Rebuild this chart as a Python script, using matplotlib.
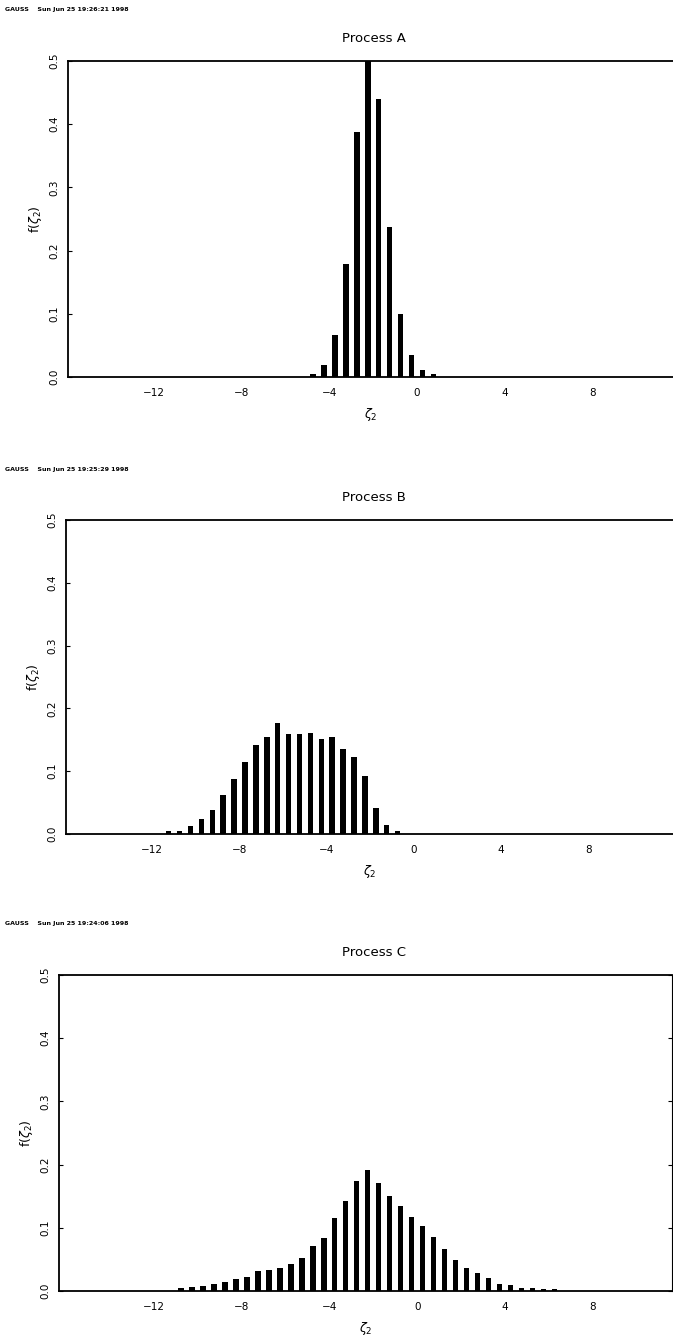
import numpy as np
import matplotlib
matplotlib.use('Agg')
import matplotlib.pyplot as plt

# bin centres (width 0.5) and heights
xs_a = [-4.75, -4.25, -3.75, -3.25, -2.75, -2.25, -1.75, -1.25, -0.75, -0.25, 0.25, 0.75]
fa = [0.005, 0.019, 0.066, 0.179, 0.387, 0.500, 0.440, 0.238, 0.099, 0.035, 0.011, 0.004]

xs_b = [-11.25, -10.75, -10.25, -9.75, -9.25, -8.75, -8.25, -7.75, -7.25, -6.75, -6.25,
        -5.75, -5.25, -4.75, -4.25, -3.75, -3.25, -2.75, -2.25, -1.75, -1.25, -0.75]
fb = [0.004, 0.005, 0.013, 0.024, 0.038, 0.062, 0.087, 0.114, 0.141, 0.154, 0.176,
      0.160, 0.159, 0.161, 0.152, 0.155, 0.136, 0.122, 0.093, 0.042, 0.015, 0.004]

xs_c = [-10.75, -10.25, -9.75, -9.25, -8.75, -8.25, -7.75, -7.25, -6.75, -6.25, -5.75,
        -5.25, -4.75, -4.25, -3.75, -3.25, -2.75, -2.25, -1.75, -1.25, -0.75, -0.25,
        0.25, 0.75, 1.25, 1.75, 2.25, 2.75, 3.25, 3.75, 4.25, 4.75, 5.25, 5.75, 6.25]
fc = [0.005, 0.006, 0.008, 0.011, 0.014, 0.019, 0.022, 0.032, 0.033, 0.036, 0.043,
      0.053, 0.071, 0.084, 0.116, 0.142, 0.174, 0.192, 0.171, 0.151, 0.135, 0.117,
      0.103, 0.085, 0.066, 0.049, 0.036, 0.028, 0.021, 0.011, 0.009, 0.005, 0.005,
      0.003, 0.003]

titles = ['Process A', 'Process B', 'Process C']
stamps = ['GAUSS    Sun Jun 25 19:26:21 1998',
          'GAUSS    Sun Jun 25 19:25:29 1998',
          'GAUSS    Sun Jun 25 19:24:06 1998']
xticks = [-12, -8, -4, 0, 4, 8]
yticks = [0.0, 0.1, 0.2, 0.3, 0.4, 0.5]

W, H = 673, 1340
fig = plt.figure(figsize=(W / 100, H / 100), dpi=100)

# panel boxes in pixels: left, top, right, bottom, and x-limits
boxes = [(68, 61, 673, 377, (-15.94, 11.69)),
         (66, 520, 673, 834, (-15.96, 11.88)),
         (59, 975, 672, 1291, (-16.3, 11.6))]
data = [(xs_a, fa), (xs_b, fb), (xs_c, fc)]

for i, ((l, t, r, b, xlim), (xs, ys)) in enumerate(zip(boxes, data)):
    ax = fig.add_axes([l / W, 1 - b / H, (r - l) / W, (b - t) / H])
    ax.bar(xs, ys, width=0.25, color='black')
    ax.set_xlim(xlim)
    ax.set_ylim(0, 0.5)
    ax.set_xticks(xticks)
    ax.set_xticklabels(['\u2212' + str(-v) if v < 0 else str(v) for v in xticks], fontsize=7.5)
    ax.set_yticks(yticks)
    ax.set_yticklabels([f'{v:.1f}' for v in yticks], rotation=90, va='center', fontsize=7.5)
    ax.tick_params(axis='x', length=0, pad=8)
    ax.tick_params(axis='y', direction='in', length=3, width=0.8, pad=6)
    if i == 2:
        ax.tick_params(axis='y', right=True)
    for side in ['top', 'bottom', 'left']:
        ax.spines[side].set_linewidth(1.3)
    ax.spines['right'].set_visible(i == 2)
    ax.set_xlabel(r'$\zeta_2$', fontsize=9, labelpad=6)
    ax.set_ylabel(r'$\mathrm{f}(\zeta_2)$', fontsize=9, labelpad=4)
    ax.set_title(titles[i], fontsize=9.5, pad=14, x=(374 - l) / (r - l))
    fig.text(5 / W, 1 - (t - 51) / H, stamps[i], fontsize=4.5, fontweight='bold', va='center')

fig.savefig('out.png', dpi=100)
